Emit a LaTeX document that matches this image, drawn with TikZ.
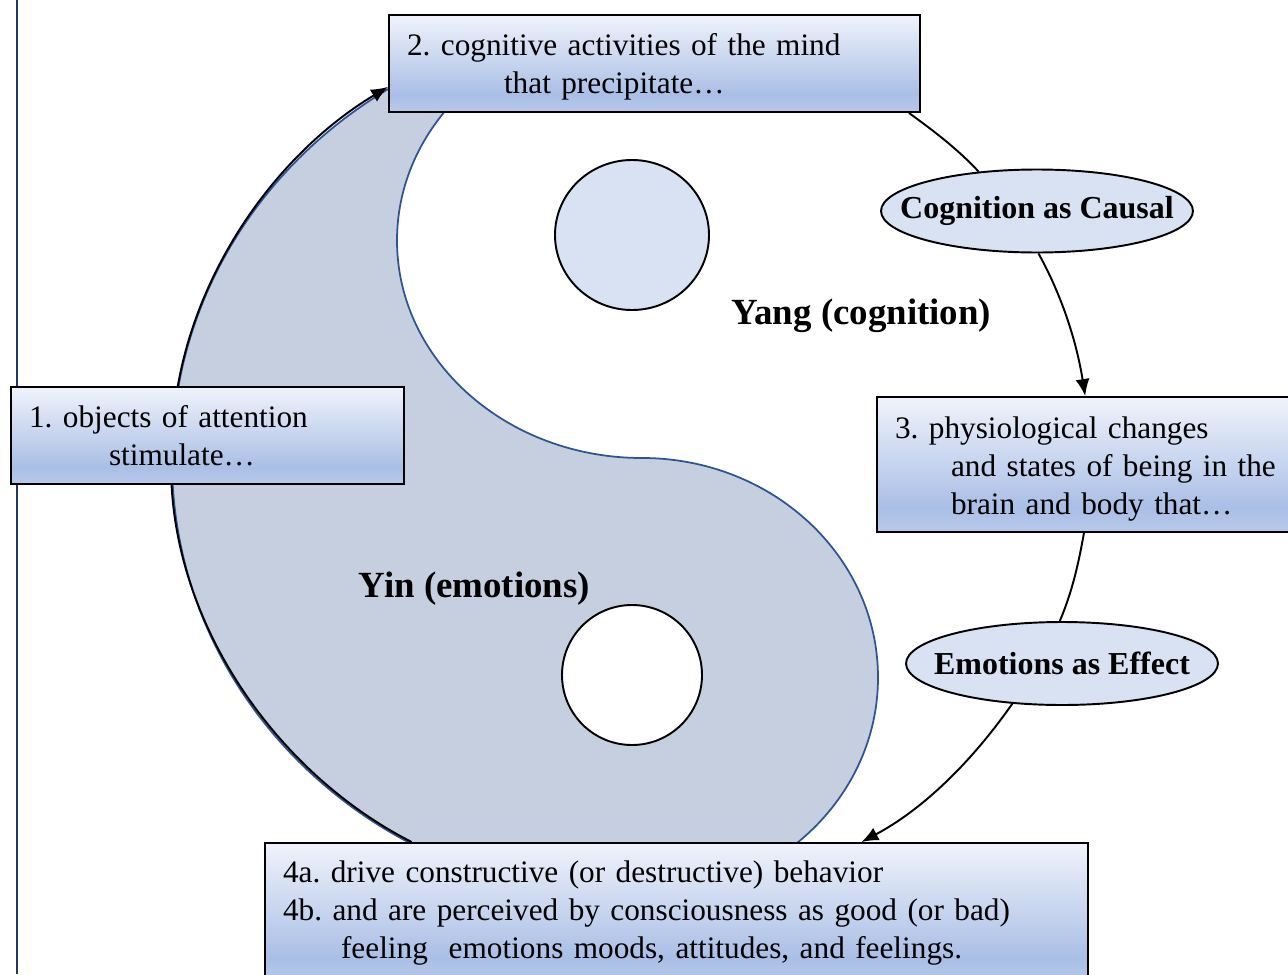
\documentclass[tikz,border=0pt]{standalone}
\usepackage{fontspec}
\setmainfont{Liberation Serif}
\usetikzlibrary{shapes.geometric,arrows.meta}

\definecolor{boxtop}{HTML}{F0F3FB}
\definecolor{boxmid}{HTML}{AABFE6}
\definecolor{boxlow}{HTML}{B8C9EA}
\definecolor{yinfill}{HTML}{C6CFE0}
\definecolor{yinline}{HTML}{2F5496}
\definecolor{dotfill}{HTML}{D9E2F3}
\definecolor{rulecol}{HTML}{1F3864}

\pgfdeclareverticalshading{boxfade}{100bp}{color(0bp)=(boxlow); color(25bp)=(boxlow); color(34bp)=(boxmid); color(75bp)=(boxtop); color(100bp)=(boxtop)}

\tikzset{
  stagebox/.style={draw, line width=1.1pt, shading=boxfade, rectangle, inner xsep=0.36cm, inner ysep=0pt, align=left, font=\frenchspacing\fontsize{17.8}{21.6}\selectfont},
  causebub/.style={draw, ellipse, line width=1.1pt, fill=dotfill, minimum width=6.24cm, minimum height=1.66cm, inner xsep=-0.6cm, inner ysep=0pt, font=\bfseries\fontsize{18.2}{21.6}\selectfont},
  halflabel/.style={font=\bfseries\fontsize{21}{25}\selectfont, anchor=base},
  link/.style={line width=1.1pt, looseness=0.88},
  linkarrow/.style={link, -{Latex[length=0.34cm,width=0.28cm]}}
}

\begin{document}
\begin{tikzpicture}[x=0.02cm, y=0.02cm]
\useasboundingbox (0,0) rectangle (1288,-974);
\clip (0,0) rectangle (1288,-974);

% left rule
\draw[rulecol, line width=1pt] (17,0) -- (17,-974);

% yin half with its S curve
\filldraw[fill=yinfill, draw=yinline, line width=1pt]
  (631,-23) arc[start angle=90, end angle=270, x radius=459, y radius=437]
  -- (642,-897) arc[start angle=-90, end angle=90, x radius=236, y radius=219.5]
  arc[start angle=270, end angle=90, x radius=245, y radius=217.5] -- cycle;

% the two dots
\filldraw[fill=dotfill, line width=1.1pt] (632,-235) ellipse[x radius=77, y radius=75];
\filldraw[fill=white, line width=1.1pt] (632,-675) circle[radius=70];

\node[halflabel] (yang) at (861.5,-324) {Yang (cognition)};
\node[halflabel] (yin) at (474.5,-597) {Yin (emotions)};

% stages
\node[stagebox, text width=7.14cm, minimum height=1.94cm] (attn) at (207.5,-435.5) {1. objects of attention\\\hspace*{1.6cm}stimulate…};
\node[stagebox, text width=9.9cm, minimum height=1.94cm, text height=0.56cm] (mind) at (654.5,-63.5) {2. cognitive activities of the mind\\\hspace*{1.94cm}that precipitate…};
\node[stagebox, text width=8.14cm, minimum height=2.7cm, text height=0.6cm] (body) at (1098.5,-464.5) {3. physiological changes\\\hspace*{1.12cm}and states of being in the\\\hspace*{1.12cm}brain and body that…};
\node[stagebox, text width=15.74cm, minimum height=2.8cm] (act) at (676.5,-913) {4a. drive constructive (or destructive) behavior\\4b. and are perceived by consciousness as good (or bad)\\\hspace*{1.16cm}feeling~ emotions moods, attitudes, and feelings.};

\node[causebub] (cause) at (1037,-211) {Cognition as Causal};
\node[causebub] (effect) at (1062,-663.5) {Emotions as Effect};

% connectors along the rim
\draw[linkarrow] (attn.121) to[out=80, in=211] (mind.185);
\draw[link] (attn.234) to[out=273, in=153] (act.165);
\draw[link] (mind.349.5) to[out=324, in=133] (cause.146);
\draw[linkarrow] (cause.272) to[out=299, in=99] (body.101.3);
\draw[link] (body.258.7) to[out=260, in=67] (effect.93);
\draw[linkarrow] (effect.219) to[out=235, in=28] (act.21);

\end{tikzpicture}
\end{document}
